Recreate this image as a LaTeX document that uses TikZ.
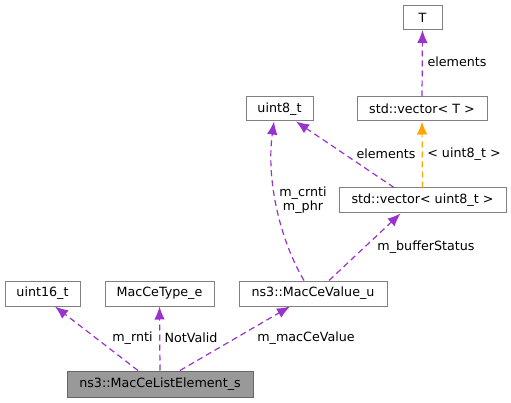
\documentclass[tikz,border=0pt]{standalone}
\usepackage{fontspec}
\setmainfont{DejaVu Sans}
\usepackage{tikz}
\usetikzlibrary{arrows.meta}
\tikzset{>={Latex[length=13pt,width=10.5pt]}}
\definecolor{edgepurple}{HTML}{9A32CD}
\definecolor{edgeorange}{HTML}{FFA500}
\definecolor{boxgray}{HTML}{808080}
\definecolor{maingray}{HTML}{999999}
\tikzset{
  box/.style={draw=boxgray, line width=1.0, fill=white, inner sep=0,
    minimum height=24, font=\fontsize{12.7}{14.5}\selectfont},
  lbl/.style={font=\fontsize{12.7}{14.5}\selectfont, inner sep=0, align=center},
  usage/.style={->, dashed, dash pattern=on 6pt off 4pt, color=edgepurple, line width=1.2},
  templ/.style={->, dashed, dash pattern=on 6pt off 4pt, color=edgeorange, line width=1.2}
}

\begin{document}
\begin{tikzpicture}[x=1pt,y=-1pt]

\useasboundingbox (0,0) rectangle (511,403);

% boxes
\node[box, minimum width=39] (tnode) at (422.5,17.5) {T};
\node[box, minimum width=130] (vect) at (422,109) {std::vector< T >};
\node[box, minimum width=67] (uinteight) at (279.5,109) {uint8\_t};
\node[box, minimum width=167, minimum height=25] (vecuint) at (422.5,200.5) {std::vector< uint8\_t >};
\node[box, minimum width=148, minimum height=25] (macevalue) at (313,293.5) {ns3::MacCeValue\_u};
\node[box, minimum width=75, minimum height=25] (uintsixteen) at (42.5,293.5) {uint16\_t};
\node[box, minimum width=109, minimum height=25] (macetype) at (159.5,293.5) {MacCeType\_e};
\node[box, minimum width=186, minimum height=26, draw=boxgray!80!black, fill=maingray] (listelem) at (160,384) {ns3::MacCeListElement\_s};

% edges
\draw[usage] ([xshift=-22]listelem.north) -- ([xshift=12.5]uintsixteen.south);
\draw[usage] (listelem.north) -- (macetype.south);
\draw[usage] ([xshift=20]listelem.north) -- ([xshift=-23]macevalue.south);
\draw[usage] ([xshift=16]macevalue.north) -- ([xshift=-22]vecuint.south);
\draw[usage] ([xshift=-9]macevalue.north) .. controls (280,240) and (266,180) .. ([xshift=-5.5]uinteight.south);
\draw[usage] ([xshift=-28.5]vecuint.north) -- ([xshift=16.5]uinteight.south);
\draw[templ] (vecuint.north) -- (vect.south);
\draw[usage] (vect.north) -- (tnode.south);

% labels
\node[lbl] (lrnti) at (132.5,338) {m\_rnti};
\node[lbl] (lnotvalid) at (191,338) {NotValid};
\node[lbl] (lmacce) at (306,338) {m\_macCeValue};
\node[lbl] (lbuffer) at (426,247) {m\_bufferStatus};
\node[lbl] (lcrnti) at (303,200) {m\_crnti\\m\_phr};
\node[lbl] (lelemu) at (386,154) {elements};
\node[lbl] (luint) at (464,154) {< uint8\_t >};
\node[lbl] (lelemt) at (457,62) {elements};

\end{tikzpicture}
\end{document}
